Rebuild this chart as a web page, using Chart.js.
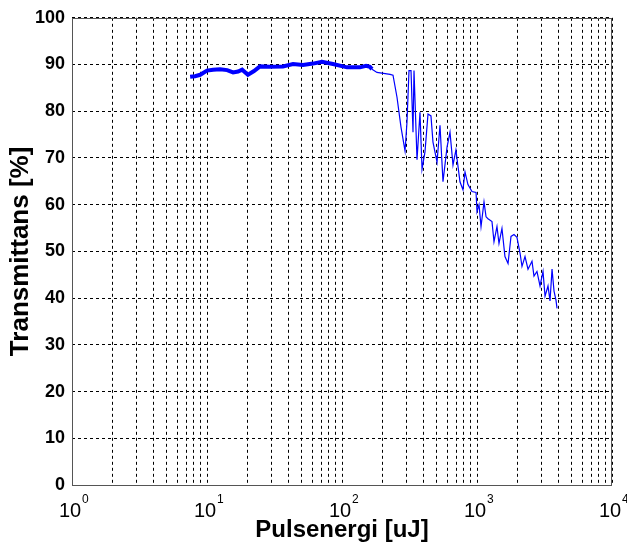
<!DOCTYPE html>
<html>
<head>
<meta charset="utf-8">
<script src="https://cdn.jsdelivr.net/npm/chart.js@4"></script>
<style>
  html, body { margin: 0; padding: 0; background: #fff; }
  #wrap { width: 627px; height: 546px; }
</style>
</head>
<body>
<div id="wrap"><canvas id="Chart1" width="627" height="546"></canvas></div>
<script>
// pulsenergi [uJ] och transmittans [%]
const energi_tjock = [7.5, 8.15, 8.9, 10.0, 11.1, 12.5, 14.1, 15.6, 17.0, 18.2, 20.1, 22.3, 24.7, 29.3, 36.5, 43.4, 51.4, 61.0, 71.1, 85.7, 108.9, 135.9, 150.6, 161, 166.8]
const trans_tjock = [87.4, 87.5, 87.8, 88.7, 88.9, 89.0, 88.8, 88.3, 88.5, 88.9, 87.8, 88.6, 89.6, 89.5, 89.6, 90.1, 89.9, 90.2, 90.6, 90.1, 89.4, 89.4, 89.7, 89.5, 89.0]

const energi_tunn = [166.8, 181.6, 227, 238.7, 255.5, 273.5, 293, 303, 313.5, 324.5, 335.7, 341.5, 359.5, 378.2, 391.5, 411.8, 433.5, 456, 472, 505.8, 532, 559.8, 599.8, 631, 664, 698, 748, 787, 815, 857, 918, 984, 1000, 1035, 1071, 1127, 1167, 1206, 1291, 1336, 1406, 1455, 1531, 1611, 1698, 1786, 1879, 1977, 2084, 2154, 2268, 2387, 2555, 2643, 2781, 2930, 3083, 3191, 3357, 3475, 3596, 3720, 3848, 3917]
const trans_tunn = [89.0, 88.3, 87.9, 87.7, 83, 76.6, 71.5, 77.7, 88.7, 88.7, 75.5, 88.7, 69.6, 79.8, 67.6, 71.3, 79.4, 79, 73.4, 69.1, 77, 64.9, 72.3, 75.5, 68.5, 71.7, 64.9, 63.2, 67, 64.3, 62.8, 62.6, 58.5, 60, 55.3, 60.6, 57.4, 57, 56.4, 52.1, 55.3, 51.7, 54.9, 48.9, 47.4, 53.2, 53.6, 53, 49.6, 46.8, 48.9, 46.2, 47.9, 44.7, 45.7, 42.6, 45.7, 40.4, 42.6, 39.4, 46.2, 41.5, 39.5, 37.8]

const x_dekader = [0, 1, 2, 3, 4]
const y_ticks = [0, 10, 20, 30, 40, 50, 60, 70, 80, 90, 100]

const typsnitt = "'Liberation Sans', Arial, Helvetica, sans-serif"

function punkter (xs, ys) {
    return xs.map((x, i) => ({x: x, y: ys[i]}))
}

// minor ticks 1..9 for varje dekad
const x_ticks = []
x_dekader.forEach((d) => {
    for (let m = 1; m <= 9; m++) {
        const v = m * Math.pow(10, d)
        if (v <= Math.pow(10, x_dekader[x_dekader.length - 1])) x_ticks.push(v)
    }
})

// ram runt diagrammet + x-etiketter med exponent (10^n)
const ramPlugin = {
    id: "ram",
    afterDraw(chart) {
        const {ctx, chartArea: a} = chart
        const sx = chart.scales.x
        ctx.save()
        ctx.strokeStyle = "#555"
        ctx.lineWidth = 1
        ctx.strokeRect(Math.round(a.left) + 0.5, Math.round(a.top) + 0.5, Math.round(a.right - a.left) - 1, Math.round(a.bottom - a.top))

        ctx.fillStyle = "#000"
        ctx.textBaseline = "alphabetic"
        x_dekader.forEach((d) => {
            const px = sx.getPixelForValue(Math.pow(10, d))
            ctx.font = "20px " + typsnitt
            const wb = ctx.measureText("10").width
            const x0 = px - wb / 2 - 2
            ctx.fillText("10", x0, 517)
            ctx.font = "12px " + typsnitt
            ctx.fillText(String(d), x0 + wb + 1, 503)
        })
        ctx.restore()
    }
}

const ex1 = document.getElementById("Chart1")

new Chart(ex1, {
    type: "line",
    data: {
        datasets: [
            {
                label: "tjock",
                data: punkter(energi_tjock, trans_tjock),
                borderColor: "#0000ff",
                borderWidth: 4,
                pointRadius: 0,
                tension: 0
            },
            {
                label: "tunn",
                data: punkter(energi_tunn, trans_tunn),
                borderColor: "#0000ff",
                borderWidth: 1.2,
                pointRadius: 0,
                tension: 0
            }
        ]
    },
    options: {
        responsive: false,
        animation: false,
        layout: { padding: { left: 0, right: 15, top: 15, bottom: 0 } },
        plugins: {
            legend: { display: false },
            tooltip: { enabled: false }
        },
        scales: {
            x: {
                type: "logarithmic",
                min: 1,
                max: 10000,
                afterBuildTicks: (s) => { s.ticks = x_ticks.map((v) => ({value: v})) },
                afterFit: (s) => { s.height = 61 },
                ticks: {
                    autoSkip: false,
                    maxRotation: 0,
                    callback: () => ""
                },
                grid: { color: "#000", lineWidth: 1, drawTicks: false },
                border: { display: false, dash: [3, 3] },
                title: {
                    display: true,
                    text: "Pulsenergi [uJ]",
                    color: "#000",
                    font: { family: typsnitt, size: 24, weight: "bold" },
                    padding: { top: 0, bottom: 1 }
                }
            },
            y: {
                type: "linear",
                min: 0,
                max: 100,
                afterBuildTicks: (s) => { s.ticks = y_ticks.map((v) => ({value: v})) },
                afterFit: (s) => { s.width = 72 },
                ticks: {
                    color: "#000",
                    padding: 7,
                    font: { family: typsnitt, size: 18, weight: "bold" }
                },
                grid: { color: "#000", lineWidth: 1, drawTicks: false },
                border: { display: false, dash: [3, 3] },
                title: {
                    display: true,
                    text: "Transmittans [%]",
                    color: "#000",
                    font: { family: typsnitt, size: 26, weight: "bold" },
                    padding: { top: 5, bottom: 0 }
                }
            }
        }
    },
    plugins: [ramPlugin]
})
</script>
</body>
</html>
